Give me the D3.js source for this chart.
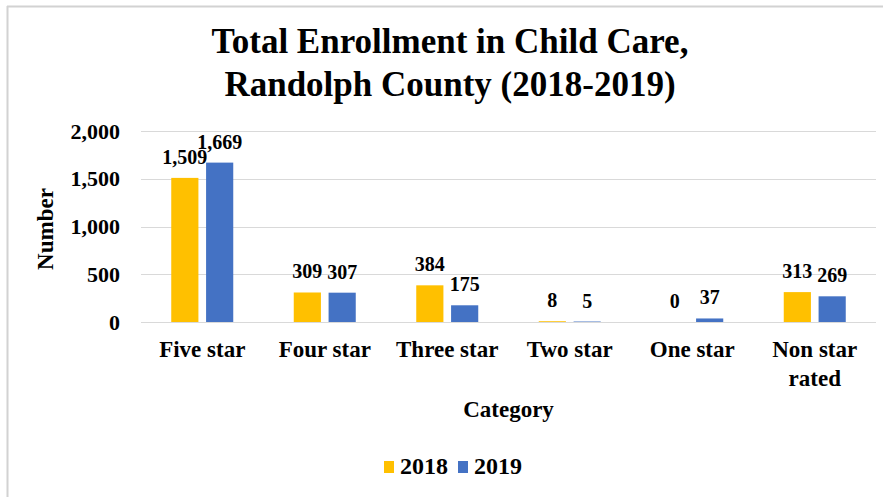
<!DOCTYPE html>
<html>
<head>
<meta charset="utf-8">
<script src="https://cdn.jsdelivr.net/npm/d3@7"></script>
<style>
  html, body { margin: 0; padding: 0; background: #fff; }
  svg { display: block; }
  text { font-family: "Liberation Serif", "Times New Roman", serif; font-weight: bold; fill: #000; }
</style>
</head>
<body>
<svg id="chart" width="883" height="497"></svg>
<script>
const categories = ["Five star", "Four star", "Three star", "Two star", "One star", "Non star rated"];
const seriesNames = ["2018", "2019"];
const values2018 = [1509, 309, 384, 8, 0, 313];
const values2019 = [1669, 307, 175, 5, 37, 269];
const yTicks = [0, 500, 1000, 1500, 2000];
const colors = ["#FFC000", "#4472C4"];
const titleLines = ["Total Enrollment in Child Care,", "Randolph County (2018-2019)"];

const svg = d3.select("#chart");
const W = 883, H = 497;
const plot = { left: 141, right: 876, top: 131, bottom: 322 };

// frame border (top and left)
svg.append("line").attr("x1", 7).attr("x2", W).attr("y1", 6.5).attr("y2", 6.5)
  .attr("stroke", "#d2d2d2").attr("stroke-width", 2);
svg.append("line").attr("x1", 7.5).attr("x2", 7.5).attr("y1", 6).attr("y2", H)
  .attr("stroke", "#d2d2d2").attr("stroke-width", 2);

// title
svg.append("g").selectAll("text").data(titleLines).join("text")
  .attr("x", 450).attr("y", (d, i) => 53 + i * 43)
  .attr("text-anchor", "middle").style("font-size", "35px").text(d => d);

const x0 = d3.scaleBand().domain(categories).range([plot.left, plot.right]).paddingInner(0).paddingOuter(0);
const x1 = d3.scaleBand().domain(seriesNames).range([0, 62]).paddingInner(0.22);
const y = d3.scaleLinear().domain([0, 2000]).range([plot.bottom, plot.top]);

// gridlines
svg.append("g").selectAll("line").data(yTicks).join("line")
  .attr("x1", plot.left).attr("x2", plot.right)
  .attr("y1", d => Math.round(y(d)) + 0.5).attr("y2", d => Math.round(y(d)) + 0.5)
  .attr("stroke", "#d9d9d9").attr("stroke-width", 1);

// y axis tick labels
const yAxis = d3.axisLeft(y).tickValues(yTicks).tickFormat(d3.format(",")).tickSize(0).tickPadding(0);
const yg = svg.append("g").attr("transform", `translate(120,0)`).call(yAxis);
yg.select(".domain").remove();
yg.selectAll("text").style("font-size", "22px").style("font-family", "Liberation Serif, serif").style("font-weight", "bold").attr("fill", "#000");

// bars
const data = categories.map((c, i) => ({ cat: c, vals: [values2018[i], values2019[i]] }));
const groups = svg.append("g").selectAll("g").data(data).join("g")
  .attr("transform", d => `translate(${x0(d.cat) + x0.bandwidth() / 2 - 31},0)`);

groups.selectAll("rect").data(d => d.vals.map((v, j) => ({ v, s: seriesNames[j], j }))).join("rect")
  .attr("x", d => x1(d.s)).attr("width", x1.bandwidth())
  .attr("y", d => y(d.v)).attr("height", d => y(0) - y(d.v))
  .attr("fill", d => colors[d.j]);

groups.selectAll("text.val").data(d => d.vals.map((v, j) => ({ v, s: seriesNames[j], j }))).join("text")
  .attr("class", "val")
  .attr("x", d => x1(d.s) + x1.bandwidth() / 2)
  .attr("y", d => y(d.v) - 14)
  .attr("text-anchor", "middle").style("font-size", "20px")
  .text(d => d3.format(",")(d.v));

// x axis category labels
const xl = svg.append("g").selectAll("text").data(categories).join("text")
  .attr("x", d => x0(d) + x0.bandwidth() / 2).attr("y", 357)
  .attr("text-anchor", "middle").style("font-size", "23px");
xl.each(function (d) {
  const t = d3.select(this);
  if (d === "Non star rated") {
    t.append("tspan").attr("x", t.attr("x")).attr("dy", 0).text("Non star");
    t.append("tspan").attr("x", t.attr("x")).attr("dy", 29).text("rated");
  } else {
    t.text(d);
  }
});

// axis titles
svg.append("text").attr("x", (plot.left + plot.right) / 2).attr("y", 417)
  .attr("text-anchor", "middle").style("font-size", "23px").text("Category");
svg.append("text").attr("transform", "translate(53,229) rotate(-90)")
  .attr("text-anchor", "middle").style("font-size", "23px").text("Number");

// legend
const legend = svg.append("g");
const legendItems = [{ name: seriesNames[0], x: 384 }, { name: seriesNames[1], x: 458 }];
legendItems.forEach((it, i) => {
  legend.append("rect").attr("x", it.x).attr("y", 461).attr("width", 10).attr("height", 12).attr("fill", colors[i]);
  legend.append("text").attr("x", it.x + 16).attr("y", 474).style("font-size", "24px").text(it.name);
});
</script>
</body>
</html>
